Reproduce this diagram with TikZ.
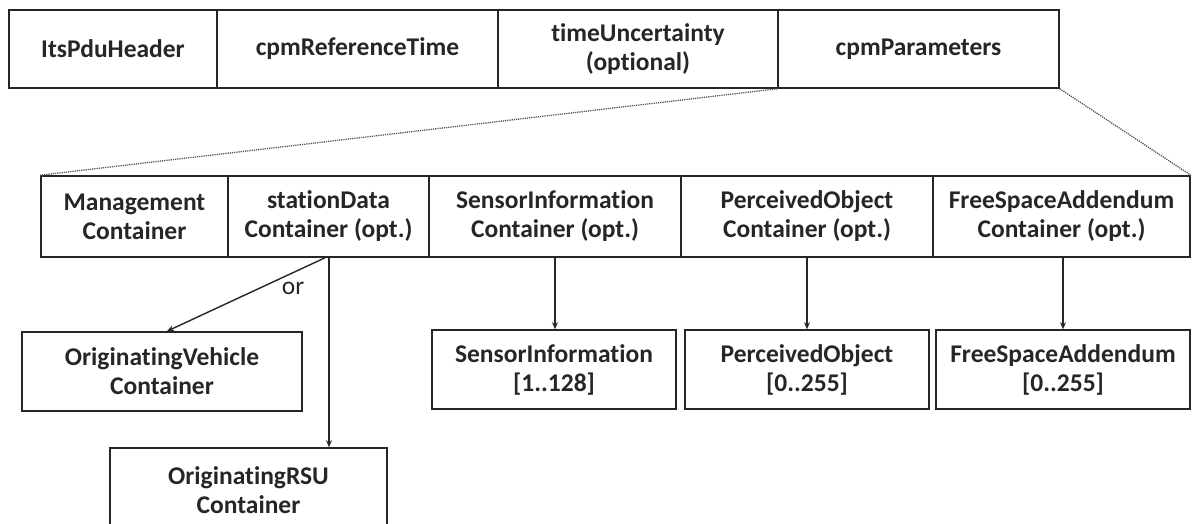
\documentclass[tikz,border=0pt]{standalone}
\usepackage{fontspec}
\setmainfont{Carlito}[Ligatures={NoCommon}]
\usetikzlibrary{arrows.meta}
\definecolor{ink}{HTML}{262626}
\begin{document}
\begin{tikzpicture}[x=1pt,y=-1pt,
  cell/.style={draw=ink, line width=1.6pt, text=ink,
    font=\fontsize{25.5}{29}\selectfont\bfseries, align=center, inner sep=0pt},
  zoomline/.style={draw=ink!80, line width=1.3pt, dash pattern=on 1.2pt off 1.0pt},
  link/.style={draw=ink, line width=1.4pt, -{Stealth[length=7pt,width=6pt]}},
  tag/.style={text=ink, font=\fontsize{25.5}{29}\selectfont, inner sep=0pt},
]
\useasboundingbox (0,0) rectangle (1192,524);

% CPM header fields
\node[cell, minimum width=208pt, minimum height=78pt] (its) at (113,49) {ItsPduHeader};
\node[cell, minimum width=281pt, minimum height=78pt] (ref) at (357.5,49) {cpmReferenceTime};
\node[cell, minimum width=280pt, minimum height=78pt] (unc) at (638,49) {timeUncertainty\\(optional)};
\node[cell, minimum width=281pt, minimum height=78pt] (par) at (918.5,49) {cpmParameters};

% containers inside cpmParameters
\node[cell, minimum width=187pt, minimum height=81pt] (mgmt) at (134.5,216.5) {Management\\Container};
\node[cell, minimum width=201pt, minimum height=81pt] (stat) at (328.5,216.5) {stationData\\Container (opt.)};
\node[cell, minimum width=252pt, minimum height=81pt] (sens) at (555,216.5) {SensorInformation\\Container (opt.)};
\node[cell, minimum width=252pt, minimum height=81pt] (perc) at (807,216.5) {PerceivedObject\\Container (opt.)};
\node[cell, minimum width=257pt, minimum height=81pt] (free) at (1061.5,216.5) {FreeSpaceAddendum\\Container (opt.)};

% contents of the containers
\node[cell, minimum width=280pt, minimum height=79pt] (veh) at (162,371.5) {OriginatingVehicle\\Container};
\node[cell, minimum width=277pt, minimum height=84pt] (rsu) at (248.5,490) {OriginatingRSU\\Container};
\node[cell, minimum width=244pt, minimum height=79pt] (sinf) at (554,369.5) {SensorInformation\\{[}1..128{]}};
\node[cell, minimum width=244pt, minimum height=79pt] (pobj) at (807,369.5) {PerceivedObject\\{[}0..255{]}};
\node[cell, minimum width=254pt, minimum height=79pt] (fsa) at (1063,369.5) {FreeSpaceAddendum\\{[}0..255{]}};

% expansion of cpmParameters
\draw[zoomline] (par.south west) -- (mgmt.north west);
\draw[zoomline] (par.south east) -- (free.north east);

% station data alternatives
\draw[link] ([xshift=-3.5pt]stat.south) -- ([xshift=5pt]veh.north);
\draw[link] ([xshift=0.5pt]stat.south) -- ([xshift=0.5pt]stat.south |- rsu.north);
\node[tag] (orlbl) at (293,288) {or};

% container lists
\draw[link] (sens.south) -- (sens.south |- sinf.north);
\draw[link] (perc.south) -- (pobj.north);
\draw[link] (free.south -| fsa.north) -- (fsa.north);
\end{tikzpicture}
\end{document}
